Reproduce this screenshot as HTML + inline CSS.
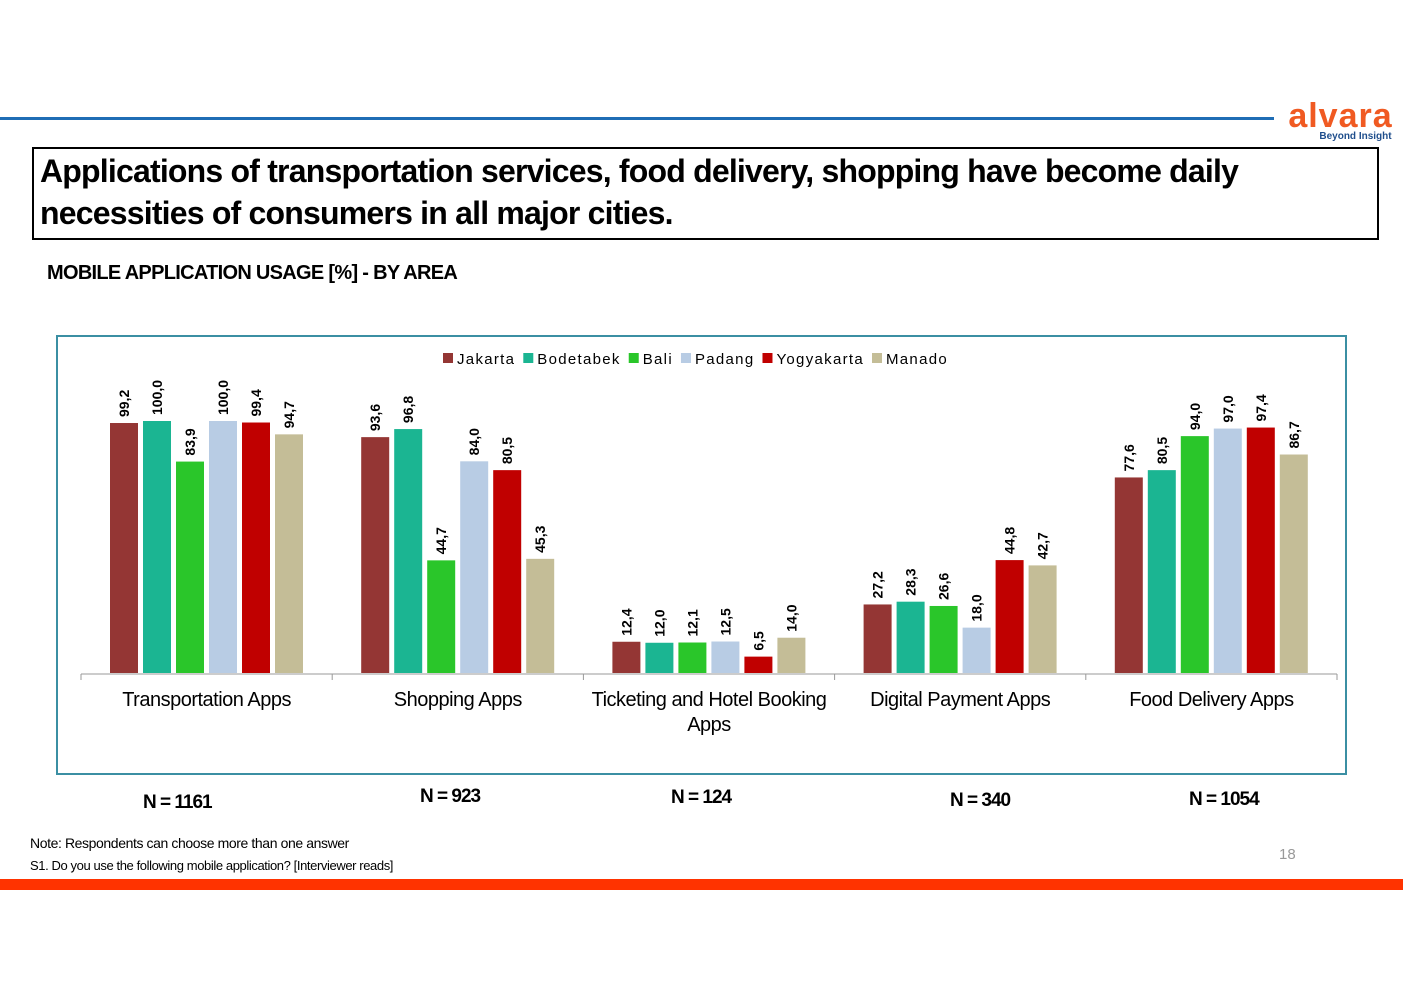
<!DOCTYPE html>
<html><head><meta charset="utf-8"><style>
body{margin:0;width:1403px;height:992px;background:#fff;position:relative;overflow:hidden;font-family:"Liberation Sans",Arial,sans-serif}
.a{position:absolute}
</style></head><body>
<div class="a" style="left:0;top:117px;width:1274px;height:3px;background:#1f6db5"></div>
<div class="a" style="left:1278px;top:100px;width:125px;text-align:center">
<div style="color:#f05a22;font-size:34px;font-weight:bold;line-height:32px;letter-spacing:1px">alvara</div>
<div style="color:#1f4e8c;font-size:10px;font-weight:bold;margin-left:30px;line-height:10px">Beyond Insight</div></div>
<div class="a" style="left:32px;top:147px;width:1343px;height:89px;border:2px solid #000;box-sizing:content-box"></div>
<div class="a" style="left:40px;top:150px;width:1225px;font-size:32px;font-weight:bold;letter-spacing:-0.8px;line-height:42px">Applications of transportation services, food delivery, shopping have become daily necessities of consumers in all major cities.</div>
<div class="a" style="left:47px;top:262px;font-size:20px;font-weight:bold;letter-spacing:-0.7px">MOBILE APPLICATION USAGE [%] - BY AREA</div>
<div class="a" style="left:56px;top:335px;width:1287px;height:436px;border:2px solid #3b8fa3"></div>
<svg class="a" style="left:0;top:0" width="1403" height="992" id="ch"></svg>
<div class="a" style="left:143px;top:792px;font-size:19px;font-weight:bold;letter-spacing:-1px">N = 1161</div>
<div class="a" style="left:420px;top:786px;font-size:19px;font-weight:bold;letter-spacing:-1px">N = 923</div>
<div class="a" style="left:671px;top:787px;font-size:19px;font-weight:bold;letter-spacing:-1px">N = 124</div>
<div class="a" style="left:950px;top:790px;font-size:19px;font-weight:bold;letter-spacing:-1px">N = 340</div>
<div class="a" style="left:1189px;top:789px;font-size:19px;font-weight:bold;letter-spacing:-1px">N = 1054</div>
<div class="a" style="left:30px;top:835px;font-size:14px;letter-spacing:-0.4px">Note: Respondents can choose more than one answer</div>
<div class="a" style="left:30px;top:858px;font-size:13px;letter-spacing:-0.4px">S1. Do you use the following mobile application? [Interviewer reads]</div>
<div class="a" style="left:1279px;top:846px;font-size:15px;color:#999">18</div>
<div class="a" style="left:0;top:879px;width:1403px;height:11px;background:#ff3300"></div>
<script>
const categories=[["Transportation Apps"],["Shopping Apps"],["Ticketing and Hotel Booking","Apps"],["Digital Payment Apps"],["Food Delivery Apps"]];
const seriesNames=["Jakarta","Bodetabek","Bali","Padang","Yogyakarta","Manado"];
const colors=["#943634","#1bb592","#2ac62a","#b8cce4","#c00000","#c4bd97"];
const jakarta=[99.2,93.6,12.4,27.2,77.6];
const bodetabek=[100.0,96.8,12.0,28.3,80.5];
const bali=[83.9,44.7,12.1,26.6,94.0];
const padang=[100.0,84.0,12.5,18.0,97.0];
const yogyakarta=[99.4,80.5,6.5,44.8,97.4];
const manado=[94.7,45.3,14.0,42.7,86.7];
const series=[jakarta,bodetabek,bali,padang,yogyakarta,manado];
const svg=document.getElementById('ch');const NS='http://www.w3.org/2000/svg';
function mk(t,a){const e=document.createElementNS(NS,t);for(const k in a)e.setAttribute(k,a[k]);svg.appendChild(e);return e;}
const x0=81,gw=251.2,base=673,scale=2.52;
const y=v=>base-v*scale;
const xb=(g,s)=>x0+g*gw+29+s*33;
const ax=mk('line',{x1:x0,x2:x0+5*gw,y1:base+1,y2:base+1,stroke:'#999','stroke-width':1});

for(let g=0;g<=5;g++){const t=mk('line',{x1:x0+g*gw,x2:x0+g*gw,y1:base+1,y2:base+7,stroke:'#999'});
}
categories.forEach((c,g)=>{c.forEach((ln,i)=>{const t=mk('text',{x:x0+g*gw+gw/2,y:706+i*25,'text-anchor':'middle','font-size':20,'letter-spacing':'-0.5'});t.textContent=ln;
});});
series.forEach((arr,s)=>{arr.forEach((v,g)=>{const r=mk('rect',{x:xb(g,s),y:y(v),width:28,height:base-y(v),fill:colors[s]});

const cx=xb(g,s)+14+5,cy=y(v)-6;const t=mk('text',{x:cx,y:cy,'font-size':14,'font-weight':'bold',transform:`rotate(-90 ${cx} ${cy})`});t.textContent=v.toFixed(1).replace('.',',');
});});
let lx=443;seriesNames.forEach((n,s)=>{const r=mk('rect',{x:lx,y:353,width:10,height:10,fill:colors[s]});

const t=mk('text',{x:lx+14,y:364,'font-size':15,'letter-spacing':'1.3'});t.textContent=n;
lx+=14+t.getComputedTextLength()+8;});
</script>
</body></html>
